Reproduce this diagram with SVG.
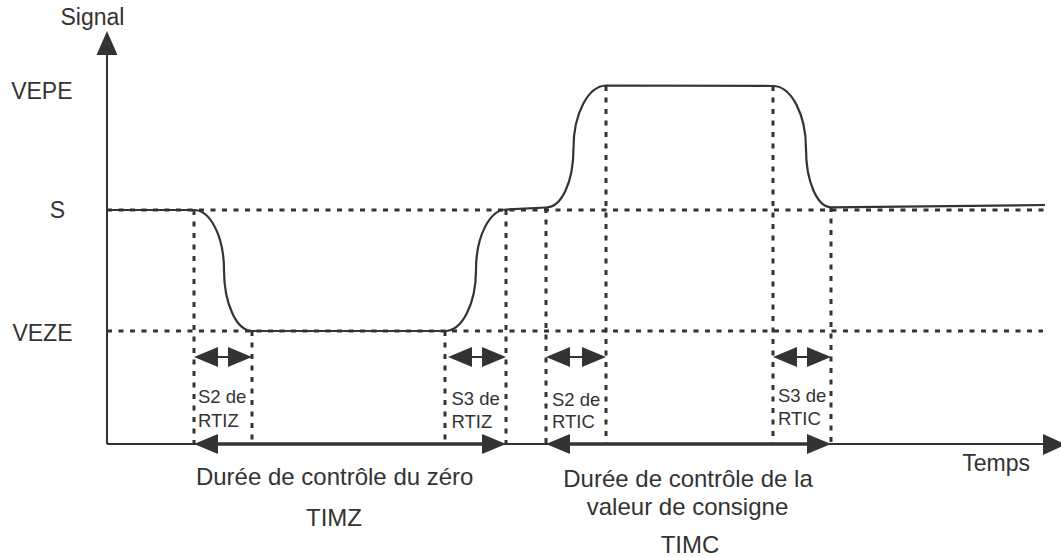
<svg xmlns="http://www.w3.org/2000/svg" width="1061" height="557" viewBox="0 0 1061 557">
<style>
  text { font-family: "Liberation Sans", Arial, sans-serif; fill: #333; }
  .ax { font-size: 23px; }
  .sm { font-size: 18.5px; }
  .bt { font-size: 24px; text-anchor: middle; }
  .axis { stroke: #333; stroke-width: 2; fill: none; }
  .dot { stroke: #333; stroke-width: 3; stroke-dasharray: 5 6.5; fill: none; }
  .sig { stroke: #333; stroke-width: 2.2; fill: none; }
  .dim { stroke: #333; stroke-width: 2; fill: none; marker-start: url(#ah); marker-end: url(#ah); }
  .dimL { stroke: #333; stroke-width: 3.5; fill: none; marker-start: url(#ah); marker-end: url(#ah); }
</style>
<defs>
  <marker id="ah" markerUnits="userSpaceOnUse" markerWidth="24" markerHeight="20" refX="14" refY="10" orient="auto-start-reverse" viewBox="0 0 24 20">
    <path d="M0,0 L24,10 L0,20 z" fill="#333"/>
  </marker>
</defs>
<rect width="1061" height="557" fill="#fff"/>

<g id="grid">
  <line class="dot" x1="107" y1="210" x2="1045" y2="210"/>
  <line class="dot" x1="107" y1="331" x2="1043" y2="331"/>
  <line class="dot" x1="194" y1="210" x2="194" y2="444"/>
  <line class="dot" x1="252" y1="331" x2="252" y2="444"/>
  <line class="dot" x1="445" y1="331" x2="445" y2="444"/>
  <line class="dot" x1="506" y1="210" x2="506" y2="444"/>
  <line class="dot" x1="546" y1="208" x2="546" y2="444"/>
  <line class="dot" x1="606" y1="86" x2="606" y2="444"/>
  <line class="dot" x1="773" y1="86" x2="773" y2="444"/>
  <line class="dot" x1="831" y1="207" x2="831" y2="444"/>
</g>

<g id="axes">
  <line class="axis" x1="107" y1="444" x2="107" y2="52"/>
  <polygon points="107,31 117.5,55 96.5,55" fill="#333"/>
  <line class="axis" x1="107" y1="444" x2="1046" y2="444"/>
  <polygon points="1066,444.5 1043,434 1043,455" fill="#333"/>
  <text class="ax" x="92.5" y="25" text-anchor="middle">Signal</text>
  <text class="ax" x="1030" y="471" text-anchor="end">Temps</text>
  <text class="ax" x="72.5" y="99" text-anchor="end">VEPE</text>
  <text class="ax" x="65" y="218" text-anchor="end">S</text>
  <text class="ax" x="72.5" y="341" text-anchor="end">VEZE</text>
</g>

<g id="signal">
  <path class="sig" d="M107,210 L194,210 C210.5,210 224,237 224,270 C224,303.5 236.6,331 252,331 L445,331 C462,331 476,304 476,270 C476,236.5 489.5,210 506,209.5 L546,207.5 C561.5,207.5 573.5,182 573.5,148 C573.5,114 588,86 606,85.5 L773,86 C791,86 806,114 806,149 C806,181 817,207 831,207.3 L1045,205"/>
</g>

<g id="connectors">
  <line class="dim" x1="204" y1="357" x2="242" y2="357"/>
  <line class="dim" x1="458" y1="357" x2="496" y2="357"/>
  <line class="dim" x1="556" y1="357" x2="596" y2="357"/>
  <line class="dim" x1="783" y1="357" x2="821" y2="357"/>
  <line class="dimL" x1="204" y1="444" x2="496" y2="444"/>
  <line class="dimL" x1="556" y1="444" x2="821" y2="444"/>
</g>

<g id="s2-rtiz">
  <text class="sm" x="198" y="403">S2 de</text>
  <text class="sm" x="198" y="427">RTIZ</text>
</g>
<g id="s3-rtiz">
  <text class="sm" x="451.5" y="405">S3 de</text>
  <text class="sm" x="451.5" y="428">RTIZ</text>
</g>
<g id="s2-rtic">
  <text class="sm" x="552" y="406">S2 de</text>
  <text class="sm" x="552" y="428">RTIC</text>
</g>
<g id="s3-rtic">
  <text class="sm" x="778" y="402">S3 de</text>
  <text class="sm" x="778" y="425">RTIC</text>
</g>

<g id="timz">
  <text class="bt" x="334.7" y="485">Durée de contrôle du zéro</text>
  <text class="bt" x="334" y="526">TIMZ</text>
</g>
<g id="timc">
  <text class="bt" x="688" y="486.5">Durée de contrôle de la</text>
  <text class="bt" x="687.5" y="515">valeur de consigne</text>
  <text class="bt" x="690" y="553">TIMC</text>
</g>
</svg>
